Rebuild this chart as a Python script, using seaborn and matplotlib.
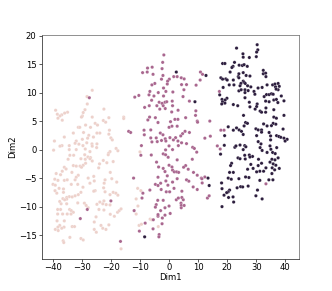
import pandas as pd
import matplotlib
matplotlib.use('Agg')
import matplotlib.pyplot as plt
import seaborn as sns

# (Dim1, Dim2), one list per cluster
cluster0 = [(-26.4,10.4),(-28.2,9.3),(-28.1,8.0),(-22.4,7.1),(-39.0,6.9),(-28.9,7.0),(-29.5,6.5),(-34.9,6.55),
    (-35.9,6.4),(-38.4,6.2),(-36.9,6.1),(-37.5,5.9),(-29.8,5.9),(-38.2,5.5),(-36.7,5.15),(-26.4,5.7),(-30.1,5.7),
    (-20.7,5.6),(-15.6,5.7),(-15.6,5.45),(-22.6,5.1),(-21.8,4.8),(-25.4,4.6),(-24.6,4.3),(-28.7,4.3),(-27,3.9),
    (-31.2,3.9),(-30.7,3.9),(-20.5,3.4),(-32.9,2.9),(-29.4,3.0),(-24.8,2.9),(-23.8,2.9),(-20.7,2.7),(-27.6,2.5),
    (-36,2.2),(-26,2.2),(-28,2.0),(-29.8,1.8),(-20,2.05),(-19.5,1.7),(-39.4,1.5),(-31.9,1.5),(-32.3,1.1),(-31,0.95),
    (-28.3,1.2),(-24.8,1.0),(-36.8,0.7),(-37.5,0.6),(-34.3,0.7),(-26.5,1.0),(-26.4,0.6),(-29.6,0.7),(-18.2,0.2),
    (-34.3,0),(-31.9,0),(-28.8,0.1),(-39.7,-0.1),(-17.6,-0.2),(-27.2,-0.35),(-24.9,0.35),(-20.3,-0.35),(-20.8,-0.65),
    (-34.1,-1.0),(-32.8,-1.0),(-20.9,-0.9),(-30.3,-1.6),(-27.9,-1.3),(-27,-1.4),(-29,-0.9),(-28.8,-1.7),(-27.2,-1.6),
    (-34.7,-1.7),(-26.4,-2.0),(-22.6,-1.9),(-21.4,-2.3),(-19.2,-2.1),(-28.7,-2.4),(-32.9,-2.8),(-31.9,-2.9),(-30.6,-2.9),
    (-29.5,-2.75),(-23.9,-2.5),(-30.1,-3.1),(-36,-3.1),(-35.4,-3.4),(-24.2,-3.2),(-36.7,-3.8),(-33.4,-4.0),(-38.8,-4.2),
    (-37.3,-4.4),(-20.2,-4.0),(-31.2,-4.5),(-25.9,-4.7),(-31.9,-4.85),(-27.8,-5.0),(-22,-5.3),(-19.7,-5.1),(-39.3,-5.2),
    (-38.2,-5.4),(-36,-5.4),(-35,-5.3),(-32.3,-5.3),(-25.7,-5.5),(-27.2,-5.9),(-18,-5.7),(-33.6,-6.1),(-39.9,-6.1),
    (-39.1,-6.25),(-31.4,-6.1),(-22.3,-5.9),(-22.5,-6.7),(-37.8,-6.8),(-29.6,-6.6),(-36.3,-6.9),(-25.4,-7.2),(-39.2,-7.2),
    (-25.9,-7.3),(-38.6,-7.65),(-36.3,-7.5),(-30.3,-7.5),(-31.2,-7.9),(-19.2,-7.5),(-18.3,-7.65),(-22,-7.4),(-17.6,-8.0),
    (-20.3,-7.9),(-32.3,-8.1),(-33.3,-8.3),(-34.3,-8.25),(-35.2,-8.4),(-36.5,-8.6),(-35.2,-8.7),(-35.9,-8.8),(-37.6,-9.1),
    (-37.1,-9.5),(-35.2,-9.5),(-31.4,-9.35),(-29.1,-9.4),(-28.5,-9.8),(-23.8,-9.2),(-24.8,-9.6),(-22.4,-9.0),(-21.6,-9.65),
    (-22.8,-9.5),(-20.3,-9.7),(-27.8,-10.2),(-37.3,-10.5),(-38.3,-10.5),(-34.2,-10.5),(-33.6,-10.7),(-24.1,-10.5),
    (-22.4,-10.6),(-17.7,-11),(-17.1,-10.7),(-16.5,-10.4),(-32.9,-11),(-38.3,-11.3),(-36.6,-11.3),(-35,-11.3),(-33.7,-11.3),
    (-20.2,-11.35),(-18.8,-11.7),(-25.1,-11.8),(-38.5,-12.5),(-36,-12.5),(-25.7,-12.7),(-23.4,-13.3),(-20.7,-13.2),
    (-37.6,-13.3),(-38.2,-13.6),(-36.1,-13.6),(-33.3,-13.5),(-32.5,-13.5),(-22.8,-13.8),(-36.9,-13.8),(-39.1,-14.0),
    (-38.1,-14.2),(-25.7,-14),(-25,-14.5),(-21.7,-14.0),(-34.1,-15.4),(-30.3,-15.6),(-29.5,-15.85),(-36.4,-16),(-36.2,-16.3),
    (-16.5,-17.4),(-10,-0.4),(-10.8,-6.8),(-9.7,-7.2),(-11.3,-8.65),(-10.7,-9.9),(-11.3,-11.3),(-10.3,-13.3),(-9.5,-13.1),
    (-6.5,-12.2),(-6,-12.3),(-3.7,-13.5)]

cluster1 = [(-28.1,-10.5),(-30.5,-12.1),(-20,-9),(-16.7,-16.1),(-12.2,-5),(-12,-10.7),(-10.2,-14.3),(-27.4,9.1),(-11.8,9.2),
    (-10.4,9.5),(-13.9,3.2),(-13.2,3.0),(-1.8,16.6),(-2.2,15.3),(-7.4,14.3),(-5.8,14.45),(-2.4,14.2),(-9.1,13.5),(-7.5,13.6),
    (-5.5,13.2),(-2.1,13),(10.8,13.6),(11.5,13.2),(1.6,12.8),(2.8,12.8),(4.2,12.6),(5.2,12.4),(-2.6,12.35),(0.1,12.35),
    (-0.5,12),(10.7,12.2),(-4.9,11.6),(-5.9,11.35),(-0.6,11.5),(4.3,11.4),(6,11.4),(9.3,11.3),(-1.9,10.8),(5.1,10.5),
    (-1.1,10.2),(-3.7,10),(-6.6,10.2),(-6.9,9.6),(1.3,10.1),(-1.9,9.4),(-5.2,9.4),(4.8,9.3),(-6,8.65),(7,8.5),(-1.4,8.3),
    (-3.4,8.3),(-2.4,8.1),(-0.8,8.4),(1.1,8.5),(-4.2,7.7),(1.2,7.7),(-6.8,7.7),(-8.4,7.4),(-2,7.7),(-3.2,7.1),(-1.3,7.2),
    (3.1,6.9),(9.2,6.8),(0.9,6.6),(9.1,6),(5.7,5.6),(-6.7,5.7),(-4.7,5.6),(2,5.3),(3.05,5.3),(-7.3,5.2),(0.5,4.9),(-3.8,4.75),
    (9.7,5),(9.8,4.8),(14,5),(2.8,4.1),(1,4.1),(0,3.9),(-8.6,3.4),(-6.3,3.45),(-8.5,2.6),(-3,2.9),(-2.1,2.6),(5.5,3.2),(7,3),
    (4.65,2.8),(4,2.4),(1.5,1.7),(0.3,2.1),(2.25,2.1),(-6.3,2.05),(-4.4,2.05),(-1.3,1.9),(-2.6,1.6),(-5.9,1.35),(-4.05,1.4),
    (3.05,1.5),(4.3,1.2),(6,1.05),(12.3,2),(14.2,2.35),(-9.5,0.7),(-1.1,1.5),(0,0.65),(1.2,0),(3.2,0.7),(8.1,0.4),(8.7,0.2),
    (-1.2,-0.05),(9.5,-0.45),(-2,-0.75),(-9.7,-1),(-6.1,-0.95),(-1.2,-0.9),(-0.3,-1.35),(2.8,-1.8),(8,-1.7),(-4.3,-2.2),
    (0,-2.75),(-3.6,-3.05),(1,-3.05),(5.7,-2.8),(5,-3.1),(-2,-3.3),(1.2,-3.6),(6.6,-3.45),(-1.4,-3.85),(1.8,-3.9),(2.6,-3.9),
    (3.3,-4),(8.4,-4.0),(-0.6,-4.6),(-3.8,-4.85),(9.7,-4.5),(11.1,-5),(12.3,-4.8),(11.3,-5.1),(2.8,-5.1),(6,-5.3),(6.8,-5.55),
    (-1.1,-5.5),(1.2,-5.7),(-2.9,-5.9),(-4.7,-6.1),(-3.8,-6.3),(-0.4,-6.25),(11.4,-5.85),(8.3,-6.55),(9.7,-7),(1.7,-6.8),
    (-2.7,-7),(-6.6,-7.1),(-9,-7.65),(-0.95,-7.4),(0.2,-7.4),(4.4,-7.3),(-9.3,-8.5),(-3.9,-8.9),(-2,-8.9),(2.5,-8.8),(3.2,-8.5),
    (4.4,-8.4),(4.9,-8.8),(13.2,-8.5),(13.8,-8.1),(-4.4,-9.65),(-4.7,-10.1),(-1.4,-10.2),(0,-9.9),(4.1,-9.4),(4.2,-9.8),
    (5.2,-9.8),(4.2,-10.2),(-2.9,-10.7),(0.4,-11.2),(-1.4,-11.5),(-3.8,-11.7),(-3.8,-11.4),(-2.3,-12),(-5.4,-12.3),(-8.2,-12.9),
    (-2.4,-13),(-5.5,-13.9),(-3.4,-14.9),(-3.5,-15.3),(17.3,10.2),(17.8,3.4),(18.9,3.4),(16.6,0.65),(17.6,0.1),(33.3,-6)]

cluster2 = [(2.5,13.6),(12.7,13),(8.9,8.4),(17.4,9.6),(-8.4,-15.3),(13.4,-5),(13.8,-6.3),(30.3,18.4),(30.5,17.5),(23.2,17.8),
    (30.1,17.1),(25.4,16.8),(25.5,16.2),(27.6,16.15),(30,16.3),(22.5,15.3),(18.4,15.1),(19.2,15.1),(22,14.6),(24.1,14.8),
    (25.2,14.75),(25.8,14.9),(26.9,14.6),(21.6,14.4),(21,13.6),(24,13.3),(32.4,13.9),(32.4,13.3),(33.2,13.4),(33.3,12.8),
    (25.5,13.5),(26.5,13),(27.8,12.9),(23.8,12.8),(17.8,12.6),(18.4,12.35),(19.5,12.4),(20,12.2),(22.1,12.2),(24,12.6),
    (25.5,12),(24.7,11.6),(25.8,11.8),(26.2,11.6),(27,11.2),(28.1,11),(20.7,11.35),(22.3,11.35),(24.4,11.2),(18.6,10.9),
    (30.6,10.8),(32,10.9),(33.7,11.35),(35.6,11.35),(36.4,11.5),(37.5,11.6),(37.9,11.1),(36.6,11),(37.5,10.5),(36.8,10.6),
    (24,10.3),(24.8,10.5),(26.1,10.5),(26.1,10),(29.2,10.2),(29.5,9.7),(27.2,10.35),(32.7,9.3),(33.5,9.65),(34.4,9.65),
    (35.2,9.8),(35.8,9.7),(26.1,9.1),(19.9,9),(19.3,8.7),(18.2,8.8),(18.4,8.4),(19.2,8.15),(18.1,8),(33.2,8.5),(34.4,8.4),
    (36,8.7),(36.9,8.8),(38.6,9.4),(39.5,8.55),(37.4,8.25),(27.6,8.3),(22.1,7.9),(23.6,7.7),(30.3,8),(27.8,7.5),(30.1,7.55),
    (29.6,7.1),(33.3,7.3),(36,7),(31.3,6.75),(31.8,6.55),(33.2,6.55),(25.6,6),(36,5.7),(36.9,5.5),(39.5,6),(26.3,4.75),
    (26.95,4.6),(25.8,4.15),(32.5,4.5),(33.7,4.15),(35.8,4.6),(36.7,4.45),(20.35,4),(23.2,3.8),(22.1,3.4),(24.1,3.45),
    (24.9,3.2),(29.85,3.65),(30.65,3.45),(31.8,3.45),(31.8,3.05),(35.2,4.2),(39.2,3.6),(34.4,3),(34.9,2.4),(30.1,2.45),
    (25.5,2.65),(19.1,2.45),(36.95,2.45),(37.75,2.3),(38.4,2.15),(39.5,2),(40.6,1.8),(39.9,1.5),(34.9,1.7),(30.65,1.4),
    (31.6,1),(19,0.75),(17.7,-0.8),(31.3,0.35),(32,-0.15),(24.4,0.8),(22.6,0.4),(23,0.65),(26,0.7),(26.4,0.5),(25.5,0),
    (34.7,0.65),(35,0.05),(37,0.35),(33.7,-0.5),(35.6,-0.5),(36.5,-0.7),(26,-1),(27.6,-0.95),(28.7,-1.2),(27.8,-1.3),
    (23.7,-1.45),(24.4,-1.6),(26.2,-1.65),(30.75,-1.7),(37.5,-1.45),(35.35,-1.7),(36.4,-1.8),(34.7,-2.2),(31.8,-2.4),
    (21.5,-2.4),(21.15,-2.8),(28.1,-2.6),(30.65,-2.8),(35.8,-2.5),(36.7,-2.75),(35.45,-3.2),(37.9,-3.3),(36.3,-3.55),
    (27,-3.45),(28.9,-3.3),(33.3,-3.2),(31.2,-3.8),(32.5,-3.8),(30.1,-3.9),(35.35,-4.2),(20.8,-4),(22.1,-4),(20.35,-5),
    (21.4,-5.2),(24,-5.1),(26.3,-4.8),(27.45,-4.9),(31.2,-5.4),(34.3,-5.3),(35.7,-5.3),(18.05,-5.85),(18.2,-6.85),
    (23.4,-6.7),(24.6,-6.5),(25.3,-6.55),(27.2,-6.4),(30.4,-7.1),(20.8,-7.1),(20.35,-7.4),(19.8,-7.55),(18.9,-8),
    (29.85,-8.1),(20.45,-8.4),(22,-8.3),(32,-8.65),(22.2,-9.2),(18.2,-10)]

rows = []
for label, pts in enumerate([cluster0, cluster1, cluster2]):
    for d1, d2 in pts:
        rows.append((d1, d2, label))
df = pd.DataFrame(rows, columns=['Dim1', 'Dim2', 'cluster'])

fig = plt.figure(figsize=(332 / 72, 291 / 72), dpi=72)
ax = fig.add_axes([41.5 / 332, 1 - 258.5 / 291, 257 / 332, 223.5 / 291])
sns.scatterplot(data=df, x='Dim1', y='Dim2', hue='cluster', s=11, linewidth=0.2, legend=False, ax=ax)
ax.set_xlim(-43.85, 44.5)
ax.set_ylim(-19.1, 20.1)
ax.set_xticks(range(-40, 41, 10))
ax.set_yticks(range(-15, 21, 5))
ax.tick_params(labelsize=8.5, length=3, pad=2, color='#333333')
ax.xaxis.labelpad = 1
ax.yaxis.labelpad = 1
ax.xaxis.label.set_size(8.5)
ax.yaxis.label.set_size(8.5)
for side in ['top', 'right']:
    ax.spines[side].set_color('#777777')
for side in ['left', 'bottom']:
    ax.spines[side].set_color('#333333')
fig.savefig('out.png', dpi=72)
